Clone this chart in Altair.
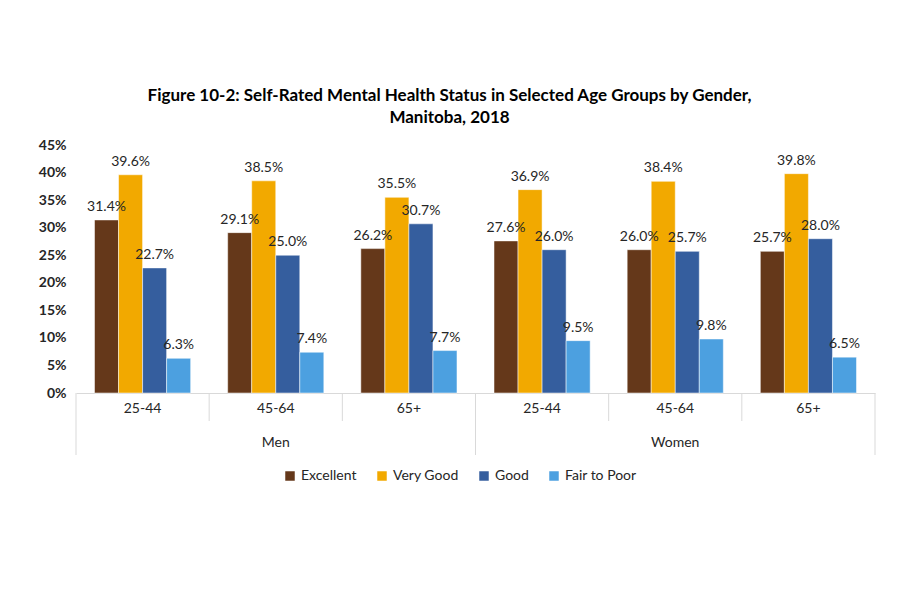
import altair as alt
import pandas as pd

genders = ["Men", "Men", "Men", "Women", "Women", "Women"]
ages = ["25-44", "45-64", "65+", "25-44", "45-64", "65+"]
statuses = ["Excellent", "Very Good", "Good", "Fair to Poor"]
colors = ["#65381A", "#F2A900", "#355E9E", "#4CA0E0"]
excellent = [31.4, 29.1, 26.2, 27.6, 26.0, 25.7]
very_good = [39.6, 38.5, 35.5, 36.9, 38.4, 39.8]
good = [22.7, 25.0, 30.7, 26.0, 25.7, 28.0]
fair_poor = [6.3, 7.4, 7.7, 9.5, 9.8, 6.5]
y_ticks = [0, 5, 10, 15, 20, 25, 30, 35, 40, 45]

cats = [f"{g}|{a}" for g, a in zip(genders, ages)]
series = [excellent, very_good, good, fair_poor]

rows = []
for s, vals in zip(statuses, series):
    for c, v in zip(cats, vals):
        rows.append({"cat": c, "status": s, "value": v, "label": f"{v:.1f}%"})
df = pd.DataFrame(rows)

W, H = 799, 248
FONT = "Lato"

xscale = alt.Scale(domain=cats, paddingInner=0, paddingOuter=0)
xoff = alt.Scale(domain=statuses, paddingOuter=0.77, paddingInner=0)
yscale = alt.Scale(domain=[0, 45], nice=False)

x_axis = alt.Axis(title=None, labelExpr="split(datum.value, '|')[1]",
                  labelAngle=0, ticks=False, domainColor="#D9D9D9",
                  labelFont=FONT, labelFontSize=14, labelColor="#262626",
                  labelPadding=8)
y_axis = alt.Axis(title=None, values=y_ticks, labelExpr="datum.value + '%'",
                  domain=False, ticks=False, grid=False, labelOverlap=False,
                  labelFont=FONT, labelFontWeight="bold", labelFontSize=14,
                  labelColor="#262626", labelPadding=10)

base = alt.Chart(df)

bars = base.mark_bar(stroke="white", strokeWidth=0.5).encode(
    x=alt.X("cat:N", scale=xscale, sort=cats, axis=x_axis),
    xOffset=alt.XOffset("status:N", scale=xoff, sort=statuses),
    y=alt.Y("value:Q", scale=yscale, axis=y_axis),
    color=alt.Color("status:N", scale=alt.Scale(domain=statuses, range=colors),
                    sort=statuses,
                    legend=alt.Legend(title=None, orient="none", direction="horizontal",
                                      legendX=207, legendY=324, symbolType="square",
                                      symbolSize=90, symbolStrokeWidth=0,
                                      labelFont=FONT, labelFontSize=14,
                                      labelColor="#262626", columnPadding=18,
                                      symbolOffset=0, labelOffset=4)),
)

labels = base.mark_text(baseline="bottom", dy=-6, font=FONT, fontSize=14,
                        color="#262626").encode(
    x=alt.X("cat:N", scale=xscale, sort=cats, axis=x_axis),
    xOffset=alt.XOffset("status:N", scale=xoff, sort=statuses),
    y=alt.Y("value:Q", scale=yscale, axis=y_axis),
    text="label:N",
)

tick_df = pd.DataFrame({"cat": cats,
                        "len": [62 if a == "25-44" else 28 for a in ages]})
long_ticks = alt.Chart(tick_df).mark_rule(color="#D9D9D9", strokeWidth=1).encode(
    x=alt.X("cat:N", scale=xscale, sort=cats, bandPosition=0, axis=x_axis),
    y=alt.value(H),
    y2=alt.value(H + 62),
).transform_filter("datum.len == 62")
short_ticks = alt.Chart(tick_df).mark_rule(color="#D9D9D9", strokeWidth=1).encode(
    x=alt.X("cat:N", scale=xscale, sort=cats, bandPosition=0, axis=x_axis),
    y=alt.value(H),
    y2=alt.value(H + 28),
).transform_filter("datum.len == 28")
end_tick = alt.Chart(pd.DataFrame({"cat": [cats[-1]]})).mark_rule(
    color="#D9D9D9", strokeWidth=1).encode(
    x=alt.X("cat:N", scale=xscale, sort=cats, bandPosition=1, axis=x_axis),
    y=alt.value(H),
    y2=alt.value(H + 62),
)

gender_df = pd.DataFrame({"cat": [cats[1], cats[4]], "g": ["Men", "Women"]})
gender_text = alt.Chart(gender_df).mark_text(font=FONT, fontSize=14,
                                             color="#262626").encode(
    x=alt.X("cat:N", scale=xscale, sort=cats, axis=x_axis),
    y=alt.value(H + 50),
    text="g:N",
)

chart = alt.layer(bars, labels, long_ticks, short_ticks, end_tick, gender_text).properties(
    width=W, height=H,
    background="white",
    title=alt.TitleParams(
        ["Figure 10-2: Self-Rated Mental Health Status in Selected Age Groups by Gender,",
         "Manitoba, 2018"],
        font=FONT, fontSize=17, fontWeight="bold", color="#000000",
        anchor="middle", dx=-26, offset=11, lineHeight=22),
    padding={"left": 68, "top": 137, "right": 10, "bottom": 180},
    autosize=alt.AutoSizeParams(type="none"),
).configure_view(stroke=None)

chart.save("out.html", embed_options={"renderer": "svg", "actions": False})
